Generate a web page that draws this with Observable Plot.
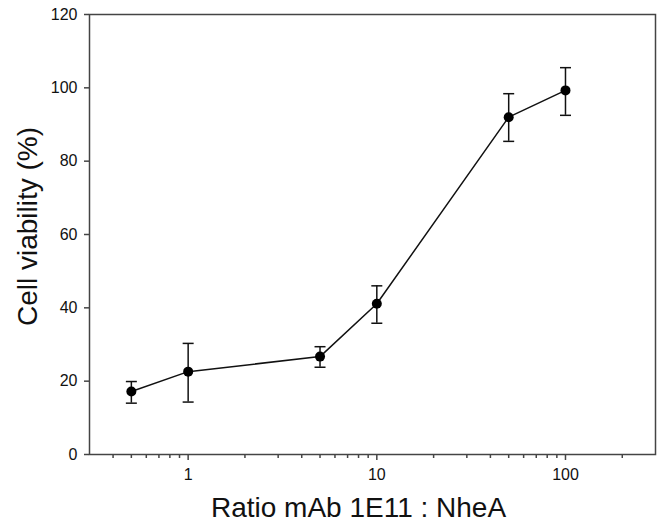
<!DOCTYPE html>
<html>
<head>
<meta charset="utf-8">
<script src="https://cdn.jsdelivr.net/npm/d3@7"></script>
<script src="https://cdn.jsdelivr.net/npm/@observablehq/plot@0.6"></script>
<style>
  html, body { margin: 0; padding: 0; background: #fff; }
  #chart svg { display: block; }
</style>
</head>
<body>
<div id="chart"></div>
<script>
// Data
const ratios = [0.5, 1, 5, 10, 50, 100];
const viability = [17.2, 22.6, 26.7, 41.1, 92.0, 99.3];
const upperBar = [19.9, 30.3, 29.4, 46.0, 98.4, 105.5];
const lowerBar = [14.0, 14.3, 23.8, 35.8, 85.4, 92.5];

const yTicks = [0, 20, 40, 60, 80, 100, 120];
const xMajorTicks = [1, 10, 100];
const xMinorTicks = [0.4, 0.5, 0.6, 0.7, 0.8, 0.9, 2, 3, 4, 5, 6, 7, 8, 9, 20, 30, 40, 50, 60, 70, 80, 90, 200];
const xTitle = "Ratio mAb 1E11 : NheA";
const yTitle = "Cell viability (%)";

const data = ratios.map((x, i) => ({x, y: viability[i], hi: upperBar[i], lo: lowerBar[i]}));

const capSymbol = {
  draw(ctx, size) {
    const r = Math.sqrt(size / Math.PI);
    ctx.moveTo(-r, 0);
    ctx.lineTo(r, 0);
  }
};

const chart = Plot.plot({
  width: 663,
  height: 523,
  marginLeft: 89,
  marginRight: 8,
  marginTop: 14,
  marginBottom: 69,
  style: {fontFamily: "'Liberation Sans', Arial, sans-serif", fontSize: "16px", color: "#111", background: "#fff"},
  x: {type: "log", domain: [0.3, 300]},
  y: {domain: [0, 120]},
  marks: [
    Plot.frame({stroke: "#444", strokeWidth: 1.5}),
    Plot.axisY({ticks: yTicks, tickSize: 5, tickPadding: 7, label: null, fontSize: 16, stroke: "#444", strokeWidth: 1.5}),
    Plot.axisX({ticks: xMinorTicks, tickSize: 4, tickFormat: () => "", label: null, stroke: "#444", strokeWidth: 1.5}),
    Plot.axisX({ticks: xMajorTicks, tickSize: 6, tickPadding: 8, tickFormat: d => String(d), label: null, fontSize: 16, stroke: "#444", strokeWidth: 1.5}),
    Plot.text([yTitle], {text: d => d, frameAnchor: "left", rotate: -90, dx: -53, dy: -8, lineAnchor: "bottom", textAnchor: "middle", fontSize: 28, fill: "#111"}),
    Plot.text([xTitle], {text: d => d, frameAnchor: "bottom", dx: -14, dy: 62, lineAnchor: "bottom", textAnchor: "middle", fontSize: 28, fill: "#111"}),
    Plot.ruleX(data, {x: "x", y1: "lo", y2: "hi", stroke: "#111", strokeWidth: 1.5}),
    Plot.dot(data, {x: "x", y: "hi", symbol: capSymbol, r: 5.5, stroke: "#111", strokeWidth: 1.5, fill: "none"}),
    Plot.dot(data, {x: "x", y: "lo", symbol: capSymbol, r: 5.5, stroke: "#111", strokeWidth: 1.5, fill: "none"}),
    Plot.line(data, {x: "x", y: "y", stroke: "#111", strokeWidth: 1.5}),
    Plot.dot(data, {x: "x", y: "y", r: 5, fill: "#000", stroke: "none"})
  ]
});
document.getElementById("chart").appendChild(chart);
</script>
</body>
</html>
